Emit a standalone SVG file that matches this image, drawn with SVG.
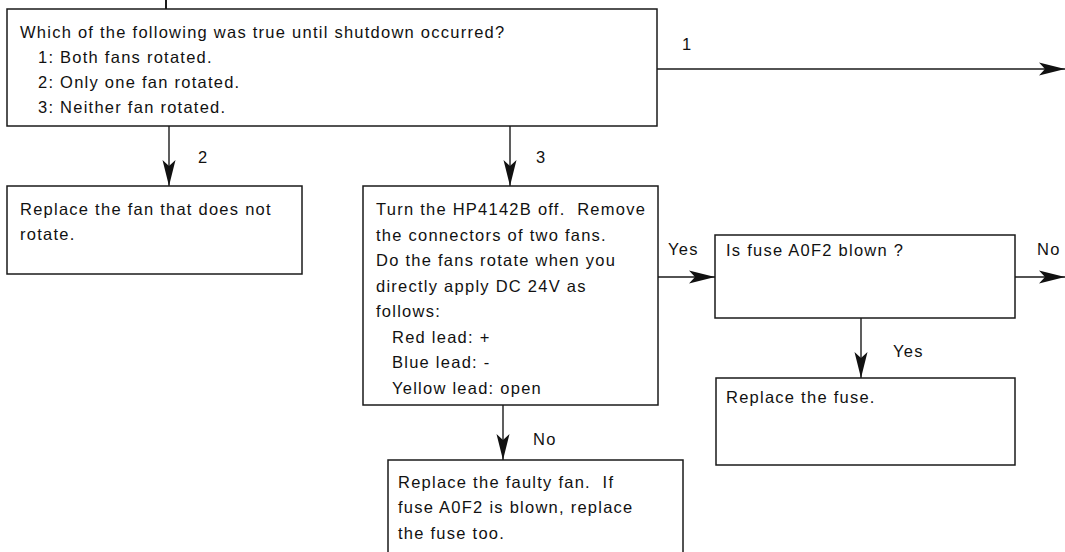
<svg xmlns="http://www.w3.org/2000/svg" width="1065" height="552" viewBox="0 0 1065 552">
  <style>
    .box { fill: #fff; stroke: #1a1a1a; stroke-width: 1.5; }
    .wire { fill: none; stroke: #1a1a1a; stroke-width: 1.4; }
    .t { font-family: "Liberation Sans", Arial, sans-serif; font-size: 16.5px; letter-spacing: 1.25px; fill: #111; white-space: pre; }
  </style>
  <defs>
    <!-- barbed arrowhead: tip at the origin, notched back -->
    <marker id="barb" markerUnits="userSpaceOnUse" viewBox="-27 -8 28 16" markerWidth="28" markerHeight="16" refX="0" refY="0" orient="auto">
      <path d="M0,0 L-26,-6.5 L-20,0 L-26,6.5 Z" fill="#111"/>
    </marker>
  </defs>
  <rect width="1065" height="552" fill="#fff"/>

  <g id="connectors">
    <line class="wire" x1="166" y1="0" x2="166" y2="9" style="stroke-width:2"/>
    <line class="wire" x1="657" y1="69" x2="1065" y2="69" marker-end="url(#barb)"/>
    <line class="wire" x1="169" y1="126" x2="169" y2="186" marker-end="url(#barb)"/>
    <line class="wire" x1="510" y1="126" x2="510" y2="186" marker-end="url(#barb)"/>
    <line class="wire" x1="658" y1="277" x2="715" y2="277" marker-end="url(#barb)"/>
    <line class="wire" x1="1015" y1="277" x2="1065" y2="277" marker-end="url(#barb)"/>
    <line class="wire" x1="861" y1="318" x2="861" y2="378" marker-end="url(#barb)"/>
    <line class="wire" x1="503" y1="405" x2="503" y2="460" marker-end="url(#barb)"/>
    <text class="t" x="682" y="50">1</text>
    <text class="t" x="198" y="163">2</text>
    <text class="t" x="536" y="163">3</text>
    <text class="t" x="668" y="255">Yes</text>
    <text class="t" x="1037" y="255">No</text>
    <text class="t" x="893" y="357">Yes</text>
    <text class="t" x="533" y="445">No</text>
  </g>

  <g id="question">
    <rect class="box" x="7" y="9" width="650" height="117"/>
    <text class="t" x="20" y="38">Which of the following was true until shutdown occurred?</text>
    <text class="t" x="38" y="63">1: Both fans rotated.</text>
    <text class="t" x="38" y="88">2: Only one fan rotated.</text>
    <text class="t" x="38" y="113">3: Neither fan rotated.</text>
  </g>

  <g id="replace-fan">
    <rect class="box" x="7" y="186" width="295" height="88"/>
    <text class="t" x="20" y="215">Replace the fan that does not</text>
    <text class="t" x="20" y="240">rotate.</text>
  </g>

  <g id="direct-test">
    <rect class="box" x="363" y="186" width="295" height="219"/>
    <text class="t" x="376" y="215">Turn the HP4142B off.  Remove</text>
    <text class="t" x="376" y="240.5">the connectors of two fans.</text>
    <text class="t" x="376" y="266">Do the fans rotate when you</text>
    <text class="t" x="376" y="291.5">directly apply DC 24V as</text>
    <text class="t" x="376" y="317">follows:</text>
    <text class="t" x="392" y="342.5">Red lead: +</text>
    <text class="t" x="392" y="368">Blue lead: -</text>
    <text class="t" x="392" y="393.5">Yellow lead: open</text>
  </g>

  <g id="fuse-check">
    <rect class="box" x="715" y="235" width="300" height="83"/>
    <text class="t" x="726" y="256">Is fuse A0F2 blown ?</text>
  </g>

  <g id="replace-fuse">
    <rect class="box" x="716" y="378" width="299" height="87"/>
    <text class="t" x="726" y="402.5">Replace the fuse.</text>
  </g>

  <g id="replace-faulty">
    <rect class="box" x="388" y="460" width="295" height="100"/>
    <text class="t" x="398" y="487.5">Replace the faulty fan.  If</text>
    <text class="t" x="398" y="513">fuse A0F2 is blown, replace</text>
    <text class="t" x="398" y="538.5">the fuse too.</text>
  </g>
</svg>
